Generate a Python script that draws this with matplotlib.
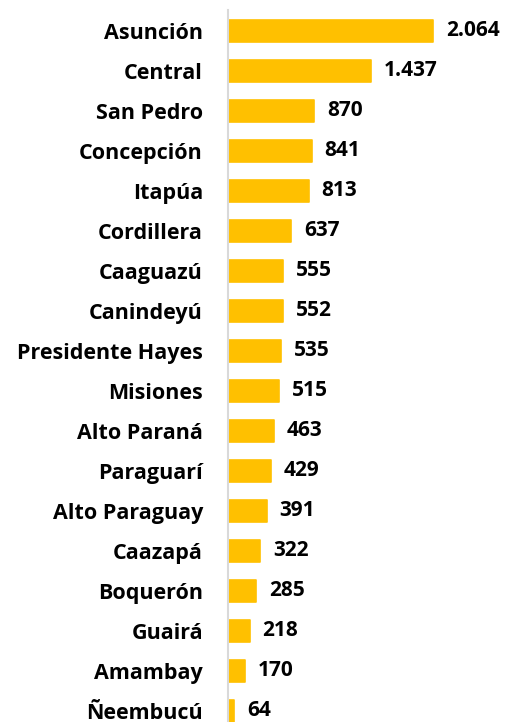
import matplotlib
matplotlib.use("Agg")
import matplotlib.pyplot as plt

categories = ["Asunción", "Central", "San Pedro", "Concepción", "Itapúa", "Cordillera",
              "Caaguazú", "Canindeyú", "Presidente Hayes", "Misiones", "Alto Paraná",
              "Paraguarí", "Alto Paraguay", "Caazapá", "Boquerón", "Guairá", "Amambay", "Ñeembucú"]
values = [2064, 1437, 870, 841, 813, 637, 555, 552, 535, 515, 463, 429, 391, 322, 285, 218, 170, 64]

plt.rcParams['font.family'] = ['Open Sans', 'DejaVu Sans']
fig = plt.figure(figsize=(5.08, 7.22), dpi=100)
ax = fig.add_axes([228/508, 0, 1 - 228/508, (722 - 10) / 722])

color = "#FFC000"
y = list(range(len(categories)))
ax.barh(y, values, height=0.55, color=color, edgecolor=color, linewidth=1.2, joinstyle='round')
ax.set_xlim(0, 2819)
ax.set_ylim(17.275, -0.525)

for yi, v in zip(y, values):
    ax.text(v + 130, yi, f"{v:,}".replace(",", "."), va='center', ha='left',
            fontsize=15, fontweight='bold', color='black')

ax.set_yticks(y)
ax.set_yticklabels(categories, fontsize=15.5, fontweight='bold')
ax.tick_params(axis='y', length=0, pad=18)
ax.set_xticks([])
for s in ['top', 'right', 'bottom']:
    ax.spines[s].set_visible(False)
ax.spines['left'].set_color('#D9D9D9')
ax.spines['left'].set_linewidth(1.5)

fig.savefig("out.png", dpi=100)
